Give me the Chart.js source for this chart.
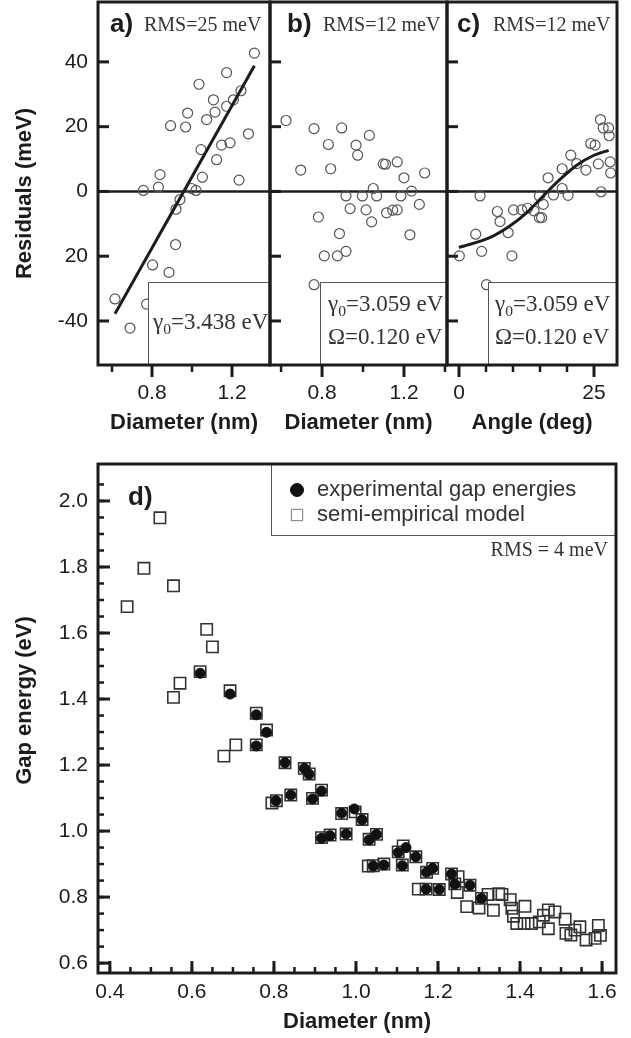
<!DOCTYPE html>
<html>
<head>
<meta charset="utf-8">
<title>Gap energies and fit residuals</title>
<script src="https://cdn.jsdelivr.net/npm/chart.js@4.4.1/dist/chart.umd.min.js"></script>
<style>
  html, body { margin: 0; padding: 0; background: #fff; }
  #page { position: relative; width: 631px; height: 1038px; overflow: hidden; }
  #page canvas { position: absolute; }
</style>
</head>
<body>
<div id="page">
  <canvas id="panel-a" width="272" height="438" style="left:0px;top:0px"></canvas>
  <canvas id="panel-b" width="182" height="438" style="left:267px;top:0px"></canvas>
  <canvas id="panel-c" width="176" height="438" style="left:444px;top:0px"></canvas>
  <canvas id="panel-d" width="620" height="578" style="left:0px;top:460px"></canvas>
</div>
<script>
// a) residuals of the gamma0-only fit vs diameter
var aDiam = [0.757, 0.832, 0.84, 0.893, 0.968, 0.978, 1.035, 1.045, 1.052, 0.998, 1.02, 0.94, 0.92,
             1.073, 1.107, 1.115, 1.123, 1.148, 1.19, 1.173, 1.173, 1.207, 1.245, 1.282, 1.235, 1.312,
             0.918, 0.803, 0.885, 0.615, 0.69, 0.773];
var aRes  = [0.3, 1.3, 5.2, 20.3, 19.9, 24.2, 33.1, 12.9, 4.4, 0.9, 0.3, -2.5, -5.5,
             22.2, 28.3, 24.5, 9.8, 14.3, 15, 36.7, 26.3, 28.3, 31.1, 17.8, 3.5, 42.7,
             -16.4, -22.7, -25, -33.2, -42.2, -34.8];
var aFitDiam = [0.615, 1.312];
var aFitRes  = [-37.8, 38.8];

// b) residuals of the gamma0 + Omega fit vs diameter
var bDiam = [0.624, 0.761, 0.896, 0.831, 0.966, 1.031, 0.974, 0.696, 0.842, 1.099, 1.11, 1.167, 1.2,
             1.301, 1.05, 1.237, 0.917, 0.997, 1.067, 1.185, 0.937, 1.015, 1.115, 1.145, 1.167, 1.275,
             0.782, 1.042, 0.885, 1.229, 0.917, 0.811, 0.875, 0.761];
var bRes  = [21.9, 19.4, 19.6, 14.5, 14.3, 17.3, 11.2, 6.6, 7.0, 8.5, 8.4, 9.1, 4.2,
             5.7, 0.9, 0.1, -1.4, -1.4, -1.4, -1.4, -5.3, -5.7, -6.6, -5.8, -5.7, -4,
             -7.9, -9.4, -13, -13.4, -18.5, -19.9, -19.9, -28.8];

// c) same residuals vs chiral angle, with the trend curve
var cAng = [26.2, 26.7, 27.7, 27.8, 24.4, 25.2, 20.7, 21.8, 23.5, 19.1, 16.5, 25.8, 28, 28.1, 26.3,
            3.9, 14.9, 17.5, 19.1, 20.2, 10.1, 11.6, 12.7, 13.9, 15.6, 14.9, 15.3, 7.1, 7.6, 9.1,
            3.1, 4.2, 0.06, 9.8, 5.1];
var cRes = [22.2, 19.6, 19.6, 17.2, 14.8, 14.3, 11.2, 8.6, 6.6, 7.0, 4.2, 8.5, 9.1, 5.7, -0.1,
            -1.4, -1.4, -1.1, 0.9, -1.2, -5.7, -5.7, -5.2, -6.0, -4, -8.1, -8.1, -6.2, -9.3, -12.7,
            -13.2, -18.5, -19.9, -19.9, -28.8];
var cFitAng = [0, 5.7, 9.4, 12.5, 15.6, 18.7, 21.8, 24.9, 27.7];
var cFitRes = [-17.3, -14.3, -10.7, -6.6, -1.4, 3.7, 8.1, 11.1, 12.7];

var resTicks    = [40, 20, 0, -20, -40];
var resTickText = ['40', '20', '0', '20', '-40'];

// d) gap energies
var expDiam = [0.620, 0.693, 0.757, 0.782, 0.757, 0.827, 0.841, 0.805, 0.874, 0.886, 0.894, 0.916,
               0.965, 0.996, 1.015, 0.916, 0.937, 0.976, 1.032, 1.050, 1.042, 1.068, 1.113, 1.103,
               1.122, 1.146, 1.172, 1.187, 1.171, 1.203, 1.233, 1.241, 1.278, 1.306];
var expGap  = [1.478, 1.415, 1.352, 1.299, 1.258, 1.207, 1.109, 1.092, 1.190, 1.172, 1.097, 1.121,
               1.054, 1.067, 1.034, 0.978, 0.986, 0.991, 0.973, 0.990, 0.894, 0.897, 0.895, 0.935,
               0.950, 0.922, 0.875, 0.887, 0.824, 0.823, 0.870, 0.839, 0.836, 0.796];

var modDiam = [0.442, 0.483, 0.522, 0.555, 0.555, 0.571, 0.620, 0.636, 0.650, 0.678,
               0.693, 0.707, 0.757, 0.757, 0.782, 0.795, 0.806, 0.827, 0.841, 0.874,
               0.886, 0.894, 0.916, 0.916, 0.937, 0.965, 0.976, 0.998, 1.015, 1.030,
               1.032, 1.042, 1.050, 1.068, 1.103, 1.113, 1.115, 1.146, 1.152, 1.171,
               1.172, 1.187, 1.203, 1.233, 1.241, 1.247, 1.249, 1.270, 1.278, 1.300,
               1.306, 1.322, 1.335, 1.348, 1.356, 1.376, 1.380, 1.384, 1.392, 1.410,
               1.412, 1.428, 1.447, 1.457, 1.469, 1.469, 1.485, 1.510, 1.512, 1.524,
               1.534, 1.546, 1.561, 1.583, 1.591, 1.596];
var modGap  = [1.680, 1.796, 1.949, 1.743, 1.405, 1.448, 1.483, 1.611, 1.558, 1.227,
               1.425, 1.261, 1.357, 1.261, 1.306, 1.085, 1.092, 1.207, 1.109, 1.190,
               1.173, 1.099, 1.124, 0.980, 0.988, 1.053, 0.991, 1.058, 1.035, 0.894,
               0.975, 0.895, 0.990, 0.900, 0.937, 0.897, 0.955, 0.922, 0.824, 0.824,
               0.875, 0.887, 0.823, 0.870, 0.840, 0.814, 0.862, 0.771, 0.836, 0.767,
               0.796, 0.808, 0.760, 0.810, 0.808, 0.792, 0.766, 0.742, 0.720, 0.720,
               0.772, 0.720, 0.725, 0.745, 0.761, 0.704, 0.755, 0.733, 0.690, 0.685,
               0.700, 0.710, 0.670, 0.675, 0.714, 0.684];
var gapTicks  = [0.6, 0.8, 1.0, 1.2, 1.4, 1.6, 1.8, 2.0];
var diamTicks = [0.4, 0.6, 0.8, 1.0, 1.2, 1.4, 1.6];

var INK = '#1c1c1c';
var SANS = '"Liberation Sans", Arial, sans-serif';
var SERIF = '"Liberation Serif", "Times New Roman", serif';

Chart.defaults.font.family = SANS;
Chart.defaults.color = INK;

function pts(xs, ys) {
  return xs.map(function (v, i) { return {x: v, y: ys[i]}; });
}

function steps(from, to, step) {
  var out = [];
  for (var v = from; v <= to + 1e-9; v += step) out.push(Math.round(v * 1000) / 1000);
  return out;
}

// text with subscripted runs, e.g. gamma_0
function richText(ctx, parts, x, y, size) {
  var cx = x;
  parts.forEach(function (p) {
    var s = p.sub ? size * 0.68 : size;
    ctx.font = s + 'px ' + SERIF;
    ctx.fillText(p.t, cx, y + (p.sub ? size * 0.2 : 0));
    cx += ctx.measureText(p.t).width;
  });
}

var decor = {
  id: 'decor',
  beforeDatasetsDraw: function (chart, args, o) {
    if (!o.zeroLine) return;
    var ctx = chart.ctx, a = chart.chartArea;
    var py = chart.scales.y.getPixelForValue(0);
    ctx.save();
    ctx.strokeStyle = INK;
    ctx.lineWidth = 2.5;
    ctx.beginPath();
    ctx.moveTo(a.left, py);
    ctx.lineTo(a.right, py);
    ctx.stroke();
    ctx.restore();
  },
  afterDatasetsDraw: function (chart, args, o) {
    var ctx = chart.ctx, a = chart.chartArea;
    var xs = chart.scales.x, ys = chart.scales.y;
    ctx.save();

    // note box in the lower right corner
    if (o.box) {
      var bx = Math.round(xs.getPixelForValue(o.box.x));
      var by = Math.round(ys.getPixelForValue(o.box.y));
      ctx.fillStyle = '#fff';
      ctx.fillRect(bx, by, a.right - bx, a.bottom - by);
      ctx.strokeStyle = '#555';
      ctx.lineWidth = 1;
      ctx.strokeRect(bx + 0.5, by + 0.5, a.right - bx, a.bottom - by);
      ctx.fillStyle = '#333';
      ctx.textBaseline = 'alphabetic';
      o.box.lines.forEach(function (ln, i) {
        richText(ctx, ln, bx + o.box.dx, by + o.box.dy + i * o.box.gap, 23);
      });
    }

    // legend box
    if (o.legend) {
      var lg = o.legend;
      var lx = a.left + lg.left, ly = a.top;
      ctx.fillStyle = '#fff';
      ctx.fillRect(lx, ly, a.right - lx, lg.height);
      ctx.strokeStyle = '#555';
      ctx.lineWidth = 1;
      ctx.strokeRect(lx + 0.5, ly + 0.5, a.right - lx, lg.height);
      chart.data.datasets.forEach(function (ds, i) {
        var my = ly + lg.first + i * lg.gap;
        ctx.fillStyle = ds.legendFill;
        ctx.strokeStyle = ds.legendStroke;
        ctx.lineWidth = 1;
        Chart.helpers.drawPoint(ctx, {pointStyle: ds.pointStyle, radius: ds.legendRadius, rotation: 0, borderWidth: 1}, lx + lg.marker, my);
        ctx.fillStyle = '#333';
        ctx.font = '22px ' + SANS;
        ctx.textBaseline = 'alphabetic';
        ctx.fillText(ds.label, lx + lg.text, my + 6);
      });
    }

    // panel captions
    ctx.textBaseline = 'alphabetic';
    if (o.tag) {
      ctx.fillStyle = INK;
      ctx.font = 'bold 26px ' + SANS;
      ctx.fillText(o.tag.text, a.left + o.tag.dx, a.top + o.tag.dy);
    }
    if (o.rms) {
      ctx.fillStyle = '#333';
      ctx.font = '20px ' + SERIF;
      ctx.textAlign = o.rms.align || 'left';
      var rx = o.rms.align === 'right' ? a.right - o.rms.dx : a.left + o.rms.dx;
      ctx.fillText(o.rms.text, rx, a.top + o.rms.dy);
      ctx.textAlign = 'left';
    }

    // rotated axis title, nudged along the axis
    if (o.yTitle) {
      ctx.save();
      ctx.translate(o.yTitle.x, (a.top + a.bottom) / 2 + o.yTitle.shift);
      ctx.rotate(-Math.PI / 2);
      ctx.fillStyle = INK;
      ctx.font = 'bold 22px ' + SANS;
      ctx.textAlign = 'center';
      ctx.textBaseline = 'middle';
      ctx.fillText(o.yTitle.text, 0, 0);
      ctx.restore();
    }

    // frame
    ctx.strokeStyle = INK;
    ctx.lineWidth = 3;
    ctx.strokeRect(a.left, a.top, a.right - a.left, a.bottom - a.top);

    // tick marks
    ctx.lineCap = 'butt';
    function yMarks(list, len) {
      list.forEach(function (v) {
        var py = ys.getPixelForValue(v);
        if (py < a.top || py > a.bottom) return;
        ctx.beginPath();
        ctx.moveTo(a.left, py);
        ctx.lineTo(a.left + len, py);
        ctx.stroke();
      });
    }
    function xMarks(list, len, dir) {
      list.forEach(function (v) {
        var px = xs.getPixelForValue(v);
        if (px < a.left - 1 || px > a.right + 1) return;
        ctx.beginPath();
        ctx.moveTo(px, a.bottom);
        ctx.lineTo(px, dir === 'in' ? a.bottom - len : a.bottom + len);
        ctx.stroke();
      });
    }
    ctx.lineWidth = 3;
    if (o.yMajor) yMarks(o.yMajor, o.yMajorLen);
    if (o.xMajor) xMarks(o.xMajor, o.xMajorLen, o.xDir);
    ctx.lineWidth = 2.5;
    if (o.yMinor) yMarks(o.yMinor, o.yMinorLen);
    if (o.xMinor) xMarks(o.xMinor, o.xMinorLen, o.xDir);

    ctx.restore();
  }
};
Chart.register(decor);

function xAxis(min, max, labels, fmt, title, height, tickPad, titlePad) {
  return {
    type: 'linear', min: min, max: max,
    grid: {display: false, drawTicks: false},
    border: {display: false},
    afterBuildTicks: function (s) { s.ticks = labels.map(function (v) { return {value: v}; }); },
    afterFit: function (s) { s.height = height; s.paddingLeft = 0; s.paddingRight = 0; },
    ticks: {font: {size: 21}, color: INK, padding: tickPad, maxRotation: 0, autoSkip: false, callback: fmt},
    title: {display: true, text: title, color: INK, font: {size: 22, weight: 'bold'}, padding: {top: 0, bottom: titlePad}}
  };
}

function yAxis(min, max, labels, fmt, show) {
  return {
    type: 'linear', min: min, max: max, display: show,
    grid: {display: false, drawTicks: false},
    border: {display: false},
    afterBuildTicks: function (s) { s.ticks = labels.map(function (v) { return {value: v}; }); },
    afterFit: function (s) { s.width = show ? 98 : 0; s.paddingTop = 0; s.paddingBottom = 0; },
    ticks: {font: {size: 21}, color: INK, padding: 10, autoSkip: false, callback: fmt}
  };
}

function openCircles(data) {
  return {label: 'residuals', data: data, pointStyle: 'circle', pointRadius: 5,
          pointBackgroundColor: 'rgba(255,255,255,0)', pointBorderColor: '#555', pointBorderWidth: 1.2};
}

function fitLine(data, smooth) {
  return {label: 'fit', data: data, showLine: true, pointRadius: 0, borderColor: INK, borderWidth: 3,
          tension: smooth ? 0.4 : 0, cubicInterpolationMode: smooth ? 'monotone' : 'default'};
}

function resLabel(v) {
  var i = resTicks.indexOf(v);
  return i < 0 ? '' : resTickText[i];
}
function oneDecimal(v) { return v.toFixed(1); }
function plain(v) { return String(v); }

var gamma0 = [{t: '\u03b3'}, {t: '0', sub: true}];

function residualOptions(p) {
  return {
    responsive: false, animation: false, events: [],
    layout: {autoPadding: false, padding: p.pad},
    plugins: {
      legend: {display: false}, tooltip: {enabled: false},
      decor: {
        zeroLine: true, box: p.box, tag: p.tag, rms: p.rms, yTitle: p.yTitle,
        yMajor: resTicks, yMajorLen: 11,
        xMajor: p.xMajor, xMinor: p.xMinor, xMajorLen: 12, xMinorLen: 7, xDir: 'out'
      }
    },
    scales: {
      x: xAxis(p.xMin, p.xMax, p.xMajor, p.fmt, p.xTitle, 73, 16, 2),
      y: yAxis(-53.6, 58.5, resTicks, resLabel, p.showY)
    }
  };
}

new Chart(document.getElementById('panel-a'), {
  type: 'scatter',
  data: {datasets: [fitLine(pts(aFitDiam, aFitRes), false), openCircles(pts(aDiam, aRes))]},
  options: residualOptions({
    pad: {top: 2, right: 2, left: 0, bottom: 0},
    xMin: 0.53, xMax: 1.39, xMajor: [0.8, 1.2], xMinor: [0.6, 1.0], fmt: oneDecimal,
    xTitle: 'Diameter (nm)', showY: true,
    yTitle: {text: 'Residuals (meV)', x: 25, shift: 10},
    tag: {text: 'a)', dx: 12, dy: 30}, rms: {text: 'RMS=25 meV', dx: 46, dy: 29},
    box: {x: 0.78, y: -28.1, dx: 5, dy: 47, gap: 33, lines: [gamma0.concat([{t: '=3.438 eV'}])]}
  })
});

new Chart(document.getElementById('panel-b'), {
  type: 'scatter',
  data: {datasets: [openCircles(pts(bDiam, bRes))]},
  options: residualOptions({
    pad: {top: 2, right: 2, left: 3, bottom: 0},
    xMin: 0.546, xMax: 1.41, xMajor: [0.8, 1.2], xMinor: [0.6, 1.0, 1.4], fmt: oneDecimal,
    xTitle: 'Diameter (nm)', showY: false,
    tag: {text: 'b)', dx: 17, dy: 30}, rms: {text: 'RMS=12 meV', dx: 53, dy: 29},
    box: {x: 0.79, y: -28.1, dx: 8, dy: 29, gap: 33,
          lines: [gamma0.concat([{t: '=3.059 eV'}]), [{t: '\u03a9=0.120 eV'}]]}
  })
});

new Chart(document.getElementById('panel-c'), {
  type: 'scatter',
  data: {datasets: [fitLine(pts(cFitAng, cFitRes), true), openCircles(pts(cAng, cRes))]},
  options: residualOptions({
    pad: {top: 2, right: 3, left: 3, bottom: 0},
    xMin: -2.22, xMax: 29.26, xMajor: [0, 25], xMinor: [5, 10, 15, 20], fmt: plain,
    xTitle: 'Angle (deg)', showY: false,
    tag: {text: 'c)', dx: 10, dy: 30}, rms: {text: 'RMS=12 meV', dx: 46, dy: 29},
    box: {x: 5.37, y: -28.1, dx: 7, dy: 29, gap: 33,
          lines: [gamma0.concat([{t: '=3.059 eV'}]), [{t: '\u03a9=0.120 eV'}]]}
  })
});

new Chart(document.getElementById('panel-d'), {
  type: 'scatter',
  data: {datasets: [
    {label: 'experimental gap energies', data: pts(expDiam, expGap), pointStyle: 'circle', pointRadius: 5,
     pointBackgroundColor: '#111', pointBorderColor: '#111', pointBorderWidth: 1,
     legendFill: '#111', legendStroke: '#111', legendRadius: 6.5},
    {label: 'semi-empirical model', data: pts(modDiam, modGap), pointStyle: 'rect', pointRadius: 8,
     pointBackgroundColor: 'rgba(255,255,255,0)', pointBorderColor: '#333', pointBorderWidth: 1.6,
     legendFill: 'rgba(255,255,255,0)', legendStroke: '#777', legendRadius: 8}
  ]},
  options: {
    responsive: false, animation: false, events: [],
    layout: {autoPadding: false, padding: {top: 4, right: 4, left: 0, bottom: 0}},
    plugins: {
      legend: {display: false}, tooltip: {enabled: false},
      decor: {
        tag: {text: 'd)', dx: 30, dy: 41},
        rms: {text: 'RMS = 4 meV', align: 'right', dx: 8, dy: 92},
        legend: {left: 173, height: 71, first: 26, gap: 25, marker: 26, text: 46},
        yTitle: {text: 'Gap energy (eV)', x: 25, shift: -18},
        yMajor: gapTicks, yMajorLen: 12, yMinor: steps(0.6, 2.05, 0.05), yMinorLen: 6,
        xMajor: diamTicks, xMajorLen: 12, xMinor: steps(0.4, 1.6, 0.05), xMinorLen: 6, xDir: 'in'
      }
    },
    scales: {
      x: xAxis(0.371, 1.634, diamTicks, oneDecimal, 'Diameter (nm)', 65, 7, 3),
      y: yAxis(0.57, 2.112, gapTicks, oneDecimal, true)
    }
  }
});
</script>
</body>
</html>
